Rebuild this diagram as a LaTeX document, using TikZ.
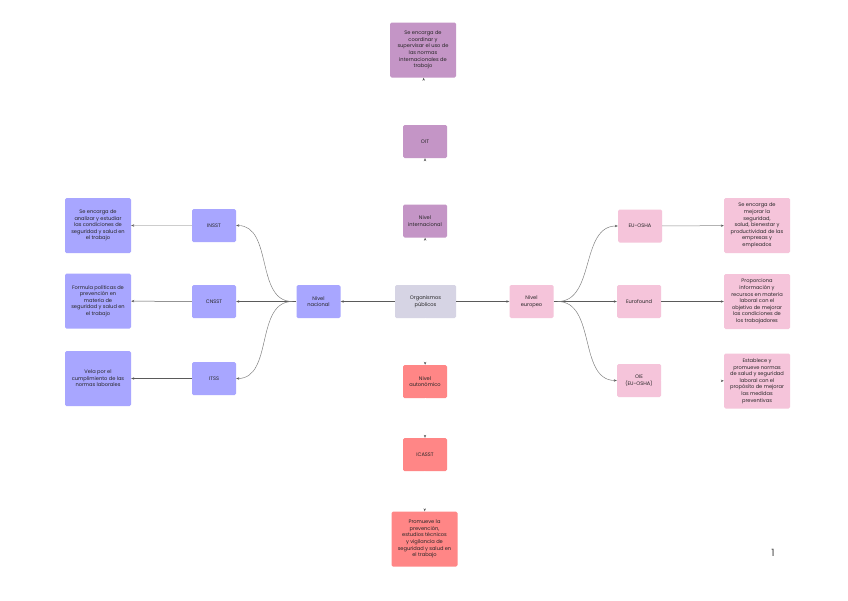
\documentclass[tikz,border=0pt]{standalone}
\usepackage{fontspec}
\setmainfont{Poppins}
\usetikzlibrary{arrows.meta}
\definecolor{cpurple}{RGB}{196,149,198}
\definecolor{cgray}{RGB}{214,212,228}
\definecolor{cpink}{RGB}{245,196,218}
\definecolor{cblue}{RGB}{168,166,255}
\definecolor{cred}{RGB}{255,134,134}
\definecolor{cline}{RGB}{90,90,90}
\definecolor{clight}{RGB}{205,205,205}
\begin{document}
\begin{tikzpicture}[x=1pt,y=-1pt,
  box/.style={rounded corners=1.5pt, align=center, font=\fontsize{5.1}{6.6}\selectfont, inner sep=1pt, text=black!85},
  small/.style={box, minimum width=44pt, minimum height=33pt},
  desc/.style={box, minimum width=66pt, minimum height=55pt},
  tip/.style={-{Stealth[length=3pt,width=2.4pt,color=cline]}},
  conn/.style={draw=cline, line width=0.5pt, tip},
  lconn/.style={draw=clight, line width=0.8pt, tip},
  hidden/.style={draw=white, line width=0.5pt, tip}
]
\useasboundingbox[fill=white] (0,0) rectangle (848,600);

% vertical upward chain
\node[desc, fill=cpurple] (topd) at (423,50) {Se encarga de\\coordinar y\\supervisar el uso de\\las normas\\internacionales de\\trabajo};
\node[small, fill=cpurple] (oit) at (425,141.5) {OIT};
\node[small, fill=cpurple] (inter) at (425,221) {Nivel\\internacional};

% centre row
\node[box, fill=cgray, minimum width=61pt, minimum height=33pt] (org) at (425.5,301.5) {Organismos\\públicos};
\node[small, fill=cpink] (eur) at (531.5,301.5) {Nivel\\europeo};
\node[small, fill=cblue] (nac) at (318.5,301.5) {Nivel\\nacional};

% national
\node[small, fill=cblue] (insst) at (214,225.5) {INSST};
\node[small, fill=cblue] (cnsst) at (214,301.5) {CNSST};
\node[small, fill=cblue] (itss) at (214,378.5) {ITSS};
\node[desc, fill=cblue] (d1) at (98,225.5) {Se encarga de\\analizar y estudiar\\las condiciones de\\seguridad y salud en\\el trabajo};
\node[desc, fill=cblue] (d2) at (98,301) {Formula políticas de\\prevención en\\materia de\\seguridad y salud en\\el trabajo};
\node[desc, fill=cblue] (d3) at (98,378.5) {Vela por el\\cumplimiento de las\\normas laborales};

% european
\node[small, fill=cpink] (osha) at (640,226) {EU-OSHA};
\node[small, fill=cpink] (euro) at (639,301.5) {Eurofound};
\node[small, fill=cpink] (oie) at (639,380.5) {OIE\\(EU-OSHA)};
\node[desc, fill=cpink] (e1) at (757,225.5) {Se encarga de\\mejorar la\\seguridad,\\salud, bienestar y\\productividad de las\\empresas y\\empleados};
\node[desc, fill=cpink] (e2) at (757,301.5) {Proporciona\\información y\\recursos en materia\\laboral con el\\objetivo de mejorar\\las condiciones de\\los trabajadores};
\node[desc, fill=cpink] (e3) at (757,381) {Establece y\\promueve normas\\de salud y seguridad\\laboral con el\\propósito de mejorar\\las medidas\\preventivas};

% regional
\node[small, fill=cred] (auto) at (425,381.5) {Nivel\\autonómico};
\node[small, fill=cred] (icas) at (425,454.5) {ICASST};
\node[desc, fill=cred] (bd) at (424.5,539) {Promueve la\\prevención,\\estudios técnicos\\y vigilancia de\\seguridad y salud en\\el trabajo};

% connectors
\draw[hidden] (org) -- (inter);
\draw[hidden] (inter) -- (oit);
\draw[hidden] (oit) -- (topd);
\draw[hidden] (org) -- (auto);
\draw[hidden] (auto) -- (icas);
\draw[hidden] (icas) -- (bd);

\draw[conn] (org) -- (eur);
\draw[conn] (org) -- (nac);

\coordinate (nl) at ([xshift=-4pt]nac.west);
\draw[conn] (nac.west) -- (cnsst);
\draw[conn, draw=cline!80, dash pattern=on 0.6pt off 0.3pt] (nl) to[out=180,in=0] (insst.east);
\draw[conn, draw=cline!80, dash pattern=on 0.6pt off 0.3pt] (nl) to[out=180,in=0] (itss.east);

\coordinate (er) at ([xshift=4pt]eur.east);
\draw[conn] (eur.east) -- (euro);
\draw[conn, draw=cline!80, dash pattern=on 0.6pt off 0.3pt] (er) to[out=0,in=180] (osha.west);
\draw[conn, draw=cline!80, dash pattern=on 0.6pt off 0.3pt] (er) to[out=0,in=180] (oie.west);

\draw[lconn] (insst) -- (d1);
\draw[conn] (cnsst) -- (d2);
\draw[conn] (itss) -- (d3);
\draw[conn, draw=cline!70] (osha) -- (e1);
\draw[conn] (euro) -- (e2);
\draw[hidden] (oie) -- (e3);

\node[font=\fontsize{10}{12}\selectfont, text=black!75] (pg) at (773,553) {1};
\end{tikzpicture}
\end{document}
